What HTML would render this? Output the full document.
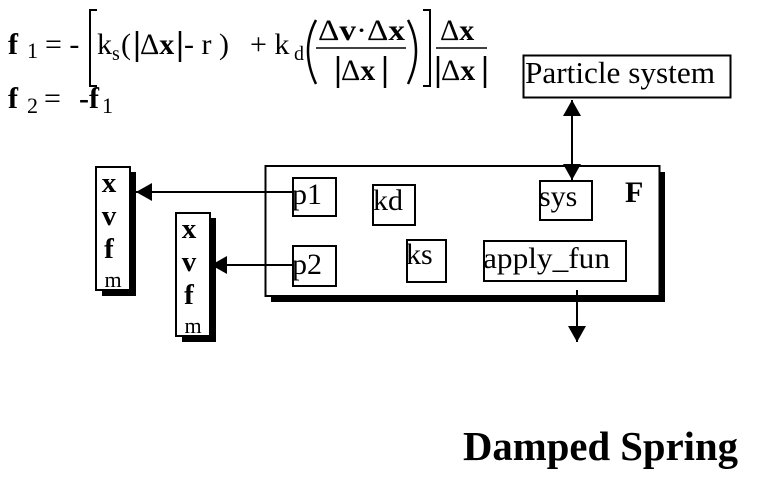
<!DOCTYPE html>
<html><head><meta charset="utf-8"><style>
html,body{margin:0;padding:0;background:#fff;}
svg{display:block;font-family:"Liberation Serif",serif;}
</style></head><body>
<svg width="761" height="483" viewBox="0 0 761 483" xmlns="http://www.w3.org/2000/svg">
<defs>
<marker id="ah" markerWidth="16" markerHeight="18" refX="16" refY="9" orient="auto-start-reverse" markerUnits="userSpaceOnUse" viewBox="0 0 16 18">
<path d="M0,0 L16,9 L0,18 Z" fill="#000"/></marker>
</defs>
<g fill="#000" font-size="30">
<text x="8" y="54" font-weight="bold">f</text>
<text x="27" y="58" font-size="22">1</text>
<text x="45" y="54">= -</text>
<path d="M97,10 L90,10 L90,86 L97,86" fill="none" stroke="#000" stroke-width="2"/>
<text x="97" y="54">k</text><text x="112" y="60" font-size="20">s</text>
<text x="121" y="54">(</text>
<line x1="137" y1="31" x2="137" y2="62" stroke="#000" stroke-width="2.5"/>
<text x="140" y="54">Δ<tspan font-weight="bold">x</tspan></text>
<line x1="180" y1="31" x2="180" y2="62" stroke="#000" stroke-width="2.5"/>
<text x="184" y="54">- r )</text>
<text x="250" y="54">+ k</text><text x="294" y="60" font-size="20">d</text>
<path d="M316,20 Q300,50 316,84" fill="none" stroke="#000" stroke-width="2.5"/>
<text x="318" y="40" textLength="87" lengthAdjust="spacingAndGlyphs">Δ<tspan font-weight="bold">v</tspan>·Δ<tspan font-weight="bold">x</tspan></text>
<line x1="316" y1="48" x2="406" y2="48" stroke="#000" stroke-width="1.5"/>
<line x1="338" y1="56" x2="338" y2="88" stroke="#000" stroke-width="2.5"/>
<text x="341" y="80">Δ<tspan font-weight="bold">x</tspan></text>
<line x1="385" y1="56" x2="385" y2="88" stroke="#000" stroke-width="2.5"/>
<path d="M408,20 Q424,50 408,84" fill="none" stroke="#000" stroke-width="2.5"/>
<path d="M423,10 L430,10 L430,86 L423,86" fill="none" stroke="#000" stroke-width="2"/>
<text x="440" y="40">Δ<tspan font-weight="bold">x</tspan></text>
<line x1="436" y1="48" x2="487" y2="48" stroke="#000" stroke-width="1.5"/>
<line x1="438" y1="56" x2="438" y2="88" stroke="#000" stroke-width="2.5"/>
<text x="441" y="80">Δ<tspan font-weight="bold">x</tspan></text>
<line x1="485" y1="56" x2="485" y2="88" stroke="#000" stroke-width="2.5"/>
<text x="8" y="108" font-weight="bold">f</text>
<text x="27" y="113" font-size="22">2</text>
<text x="44" y="108">=</text>
<text x="79" y="108" font-weight="bold">-f</text>
<text x="102" y="113" font-size="22">1</text>
</g>

<rect x="523.5" y="55.5" width="207" height="42" fill="#fff" stroke="#000" stroke-width="2"/>
<text x="525" y="83" font-size="31" textLength="190" lengthAdjust="spacingAndGlyphs">Particle system</text>

<rect x="271" y="172" width="394" height="130" fill="#000"/>
<rect x="265.5" y="166" width="394" height="130" fill="#fff" stroke="#000" stroke-width="2"/>
<line x1="572" y1="100" x2="572" y2="180" stroke="#000" stroke-width="2" marker-start="url(#ah)" marker-end="url(#ah)"/>
<g fill="#fff" stroke="#000" stroke-width="2">
<rect x="293" y="178" width="43" height="38"/>
<rect x="373" y="185" width="42" height="40"/>
<rect x="540" y="181" width="52" height="39"/>
<rect x="293" y="246" width="43" height="40"/>
<rect x="407" y="240" width="39" height="42"/>
<rect x="484" y="241" width="142" height="40"/>
</g>
<g font-size="30" fill="#000">
<text x="292" y="204">p1</text>
<text x="373" y="210">kd</text>
<text x="539" y="206">sys</text>
<text x="625" y="202" font-weight="bold">F</text>
<text x="292" y="274">p2</text>
<text x="406" y="264">ks</text>
<text x="483" y="268" textLength="127" lengthAdjust="spacingAndGlyphs">apply_fun</text>
</g>
<line x1="577" y1="290" x2="577" y2="342" stroke="#000" stroke-width="2" marker-end="url(#ah)"/>

<rect x="102" y="172" width="34" height="124" fill="#000"/>
<rect x="96" y="167" width="34" height="123" fill="#fff" stroke="#000" stroke-width="2"/>
<rect x="182" y="218" width="34" height="124" fill="#000"/>
<rect x="176" y="213" width="34" height="123" fill="#fff" stroke="#000" stroke-width="2"/>
<g font-size="29" fill="#000" text-anchor="middle" font-weight="bold">
<text x="109" y="192">x</text>
<text x="109" y="225">v</text>
<text x="109" y="258">f</text>
<text x="113" y="287" font-size="22" font-weight="normal">m</text>
<text x="189" y="238">x</text>
<text x="189" y="271">v</text>
<text x="189" y="304">f</text>
<text x="193" y="333" font-size="22" font-weight="normal">m</text>
</g>
<line x1="292" y1="192" x2="136" y2="192" stroke="#000" stroke-width="2" marker-end="url(#ah)"/>
<line x1="292" y1="265" x2="211" y2="265" stroke="#000" stroke-width="2" marker-end="url(#ah)"/>

<text x="463" y="460" font-size="41" font-weight="bold" textLength="275" lengthAdjust="spacingAndGlyphs">Damped Spring</text>
</svg>
</body></html>
